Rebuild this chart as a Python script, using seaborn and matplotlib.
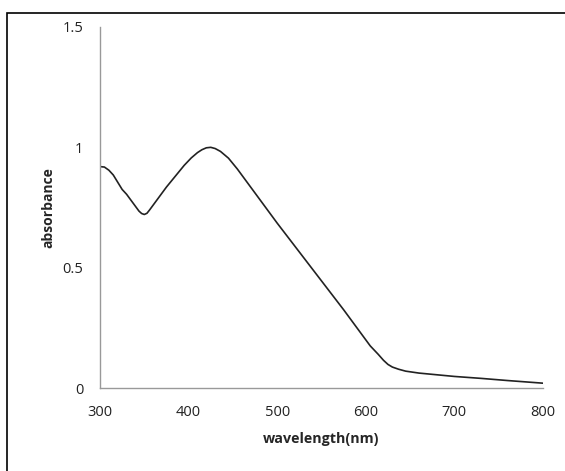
import matplotlib
matplotlib.use("Agg")
import matplotlib.pyplot as plt
import seaborn as sns
import pandas as pd
from matplotlib.patches import Rectangle

wavelength = [300, 305, 310, 315, 320, 325, 330, 335, 340, 344, 347, 350, 353, 356, 360, 368, 375, 385,
              395, 403, 410, 415, 420, 425, 430, 436, 445, 455, 465, 480, 500, 525, 550, 575, 593, 605,
              614, 620, 625, 630, 637, 645, 660, 680, 700, 730, 760, 800]
absorbance = [0.92, 0.918, 0.905, 0.885, 0.855, 0.825, 0.805, 0.78, 0.755, 0.735, 0.725, 0.721, 0.726,
              0.74, 0.76, 0.80, 0.835, 0.88, 0.925, 0.956, 0.978, 0.99, 0.998, 1.0, 0.995, 0.983, 0.955,
              0.91, 0.86, 0.785, 0.685, 0.565, 0.445, 0.325, 0.235, 0.175, 0.14, 0.115, 0.098, 0.087,
              0.078, 0.07, 0.062, 0.055, 0.048, 0.04, 0.031, 0.02]
xticks = [300, 400, 500, 600, 700, 800]
yticks = [0, 0.5, 1, 1.5]
yticklabels = ["0", "0.5", "1", "1.5"]

df = pd.DataFrame({"wavelength": wavelength, "absorbance": absorbance})

sns.set_style("white")
plt.rcParams['font.family'] = ['Open Sans', 'DejaVu Sans']

fig = plt.figure(figsize=(5.65, 4.71), dpi=100)
ax = fig.add_axes([100/565, (471-388)/471, (543-100)/565, (388-27)/471])

sns.lineplot(data=df, x="wavelength", y="absorbance", ax=ax, color="#222222", linewidth=1.2)

ax.set_xlim(300, 800)
ax.set_ylim(0, 1.5)
ax.set_xticks(xticks)
ax.set_xticklabels([str(t) for t in xticks], fontsize=10.5)
ax.set_yticks(yticks)
ax.set_yticklabels(yticklabels, fontsize=10.5)
ax.tick_params(axis='both', length=0, colors="#222222")
ax.tick_params(axis='y', pad=12)
ax.tick_params(axis='x', pad=12)

for s in ["top", "right"]:
    ax.spines[s].set_visible(False)
for s in ["left", "bottom"]:
    ax.spines[s].set_color("#999999")
    ax.spines[s].set_linewidth(1.0)

ax.set_xlabel("wavelength(nm)", fontsize=10.3, fontweight="bold", labelpad=9)
ax.set_ylabel("absorbance", fontsize=10.0, fontweight="bold", labelpad=5)

# outer frame
fig.add_artist(Rectangle((7/565, -0.05), 1.2, (471-13)/471 + 0.05, transform=fig.transFigure,
                         fill=False, edgecolor="black", linewidth=1.2))

fig.savefig("out.png", dpi=100)
